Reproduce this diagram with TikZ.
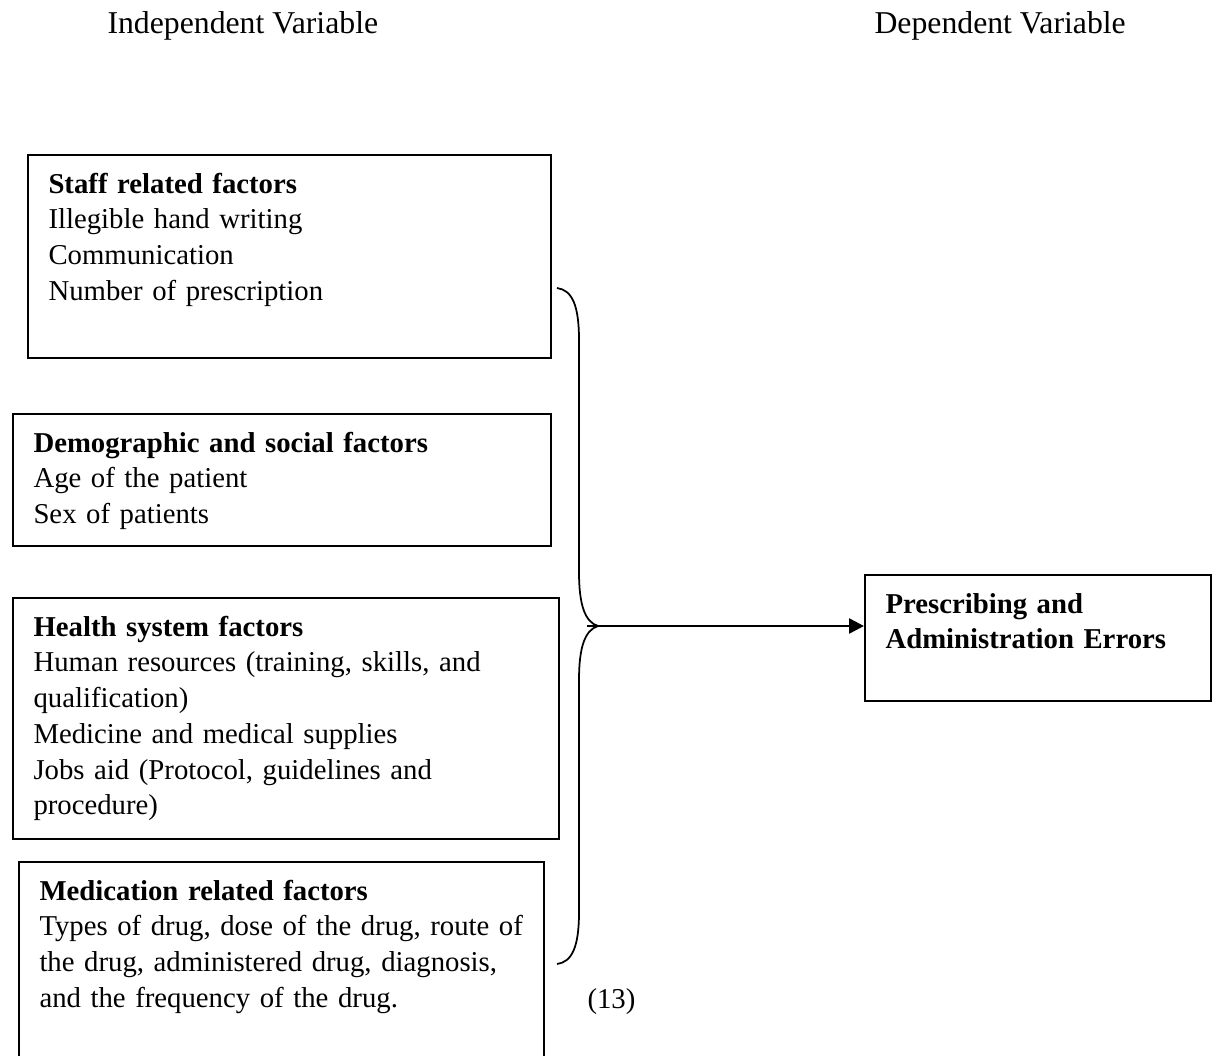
\documentclass[tikz,border=0pt]{standalone}
\usepackage{fontspec}
\setmainfont{Liberation Serif}
\usepackage{tikz}
\usetikzlibrary{arrows.meta}

\begin{document}
\begin{tikzpicture}[x=0.4pt,y=-0.4pt,
    heading/.style={anchor=base west,inner sep=0pt,font=\fontsize{12.7pt}{15pt}\selectfont},
    factor/.style={draw,line width=0.8pt,anchor=north west,align=left,inner xsep=8.2pt,inner ysep=7pt,text height=8.2pt,font=\fontsize{11.5pt}{14.3pt}\selectfont},
    arc/.style={draw,line width=1pt,-{Triangle[length=6pt,width=6pt]}}]
        \useasboundingbox (0,0) rectangle (1213,1055);

        \node[heading] (indep) at (107,33) {Independent Variable};
        \node[heading] (dep) at (874,33) {Dependent Variable};

        \node[factor,text width=192.8pt,text depth=59pt] (staff) at (27,154) {\textbf{Staff related factors}\\Illegible hand writing\\Communication\\Number of prescription};
        \node[factor,text width=198.8pt,text depth=30.6pt] (demo) at (12,413) {\textbf{Demographic and social factors}\\Age of the patient\\Sex of patients};
        \node[factor,text width=202pt,text depth=74.2pt] (health) at (12,597) {\textbf{Health system factors}\\Human resources (training, skills, and\\qualification)\\Medicine and medical supplies\\Jobs aid (Protocol, guidelines and\\procedure)};
        \node[factor,text width=193.6pt,text depth=58.2pt] (medic) at (18,861) {\textbf{Medication related factors}\\Types of drug, dose of the drug, route of\\the drug, administered drug, diagnosis,\\and the frequency of the drug.};
        \node[factor,text width=122pt,text depth=28.2pt] (errors) at (864,574) {\textbf{Prescribing and}\\\textbf{Administration Errors}};

        \node[anchor=base west,inner sep=0pt,font=\fontsize{11.5pt}{14.3pt}\selectfont] (ref) at (587,1008) {(13)};

        % brace joining the four groups
        \coordinate (top) at (557,288);
        \coordinate (tip) at (598,626);
        \coordinate (bottom) at (557,964);
        \coordinate (join) at (587,626);
        \draw[line width=0.7pt] (top) .. controls (572,290) and (579,305) .. (579,340) -- (579,572) .. controls (579,605) and (585,622) .. (tip) .. controls (585,630) and (579,647) .. (579,680) -- (579,912) .. controls (579,947) and (572,962) .. (bottom);
        \draw[arc] (join) -- (join -| errors.west);
    \end{tikzpicture}
\end{document}
